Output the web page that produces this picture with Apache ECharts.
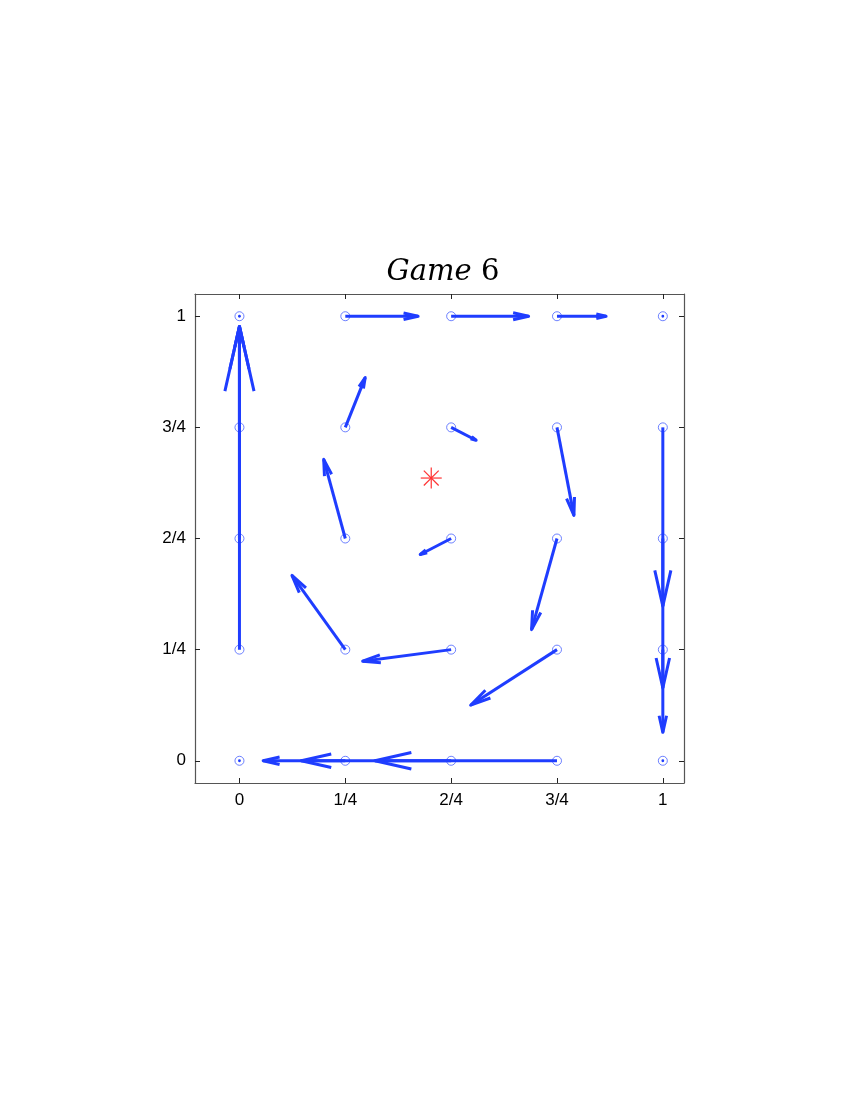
<!DOCTYPE html>
<html>
<head>
<meta charset="utf-8">
<script src="https://cdn.jsdelivr.net/npm/echarts@6/dist/echarts.min.js"></script>
<style>
html, body { margin: 0; padding: 0; background: #fff; }
#container { width: 850px; height: 1100px; }
</style>
</head>
<body>
<div id="container"></div>
<script>
var tickValues = [0, 0.25, 0.5, 0.75, 1];
var tickLabels = ['0', '1/4', '2/4', '3/4', '1'];

// grid points, bottom row first
var px = [0, 0.25, 0.5, 0.75, 1,
          0, 0.25, 0.5, 0.75, 1,
          0, 0.25, 0.5, 0.75, 1,
          0, 0.25, 0.5, 0.75, 1,
          0, 0.25, 0.5, 0.75, 1];
var py = [0, 0, 0, 0, 0,
          0.25, 0.25, 0.25, 0.25, 0.25,
          0.5, 0.5, 0.5, 0.5, 0.5,
          0.75, 0.75, 0.75, 0.75, 0.75,
          1, 1, 1, 1, 1];
// vector components at each point
var u = [0, -0.194, -0.354, -0.430, 0,
         0, -0.126, -0.209, -0.204, 0,
         0, -0.051, -0.073, -0.060, 0,
         0, 0.047, 0.059, 0.040, 0,
         0, 0.172, 0.183, 0.116, 0];
var v = [0, 0, 0, 0, 0,
         0.727, 0.167, -0.026, -0.125, -0.186,
         0.477, 0.178, -0.036, -0.205, -0.336,
         0.227, 0.112, -0.029, -0.198, -0.402,
         0, 0, 0, 0, 0];
var equilibrium = [0.453, 0.636];

window.onload = function () {
    var dom = document.getElementById('container');
    var myChart = echarts.init(dom);

    var points = [];
    var arrows = [];
    for (var i = 0; i < px.length; i++) {
        points.push([px[i], py[i]]);
        arrows.push([px[i], py[i], u[i], v[i]]);
    }

    var blue = '#1f3dff';

    function renderArrow(params, api) {
        var x = api.value(0), y = api.value(1);
        var p0 = api.coord([x, y]);
        var p1 = api.coord([x + api.value(2), y + api.value(3)]);
        var dx = p1[0] - p0[0], dy = p1[1] - p0[1];
        var len = Math.sqrt(dx * dx + dy * dy);
        if (len < 0.5) {
            // zero vector: just a dot
            return {
                type: 'circle',
                shape: { cx: p0[0], cy: p0[1], r: 1.4 },
                style: { fill: blue }
            };
        }
        var ux = dx / len, uy = dy / len;
        var hl = 0.2 * len, hw = 0.045 * len;
        var bx = p1[0] - ux * hl, by = p1[1] - uy * hl;
        return {
            type: 'group',
            children: [{
                type: 'line',
                shape: { x1: p0[0], y1: p0[1], x2: p1[0], y2: p1[1] },
                style: { stroke: blue, lineWidth: 3 }
            }, {
                type: 'polyline',
                shape: { points: [[bx - uy * hw, by + ux * hw], p1, [bx + uy * hw, by - ux * hw]] },
                style: { stroke: blue, lineWidth: 3, fill: null, lineJoin: 'round', lineCap: 'butt' }
            }]
        };
    }

    function renderStar(params, api) {
        var c = api.coord([api.value(0), api.value(1)]);
        var r = 10.5, d = r * 0.7071;
        var segs = [[-r, 0, r, 0], [0, -r, 0, r], [-d, -d, d, d], [-d, d, d, -d]];
        return {
            type: 'group',
            children: segs.map(function (s) {
                return {
                    type: 'line',
                    shape: { x1: c[0] + s[0], y1: c[1] + s[1], x2: c[0] + s[2], y2: c[1] + s[3] },
                    style: { stroke: '#ff3333', lineWidth: 1.2 }
                };
            })
        };
    }

    function labelFor(val) {
        for (var k = 0; k < tickValues.length; k++) {
            if (Math.abs(tickValues[k] - val) < 1e-9) return tickLabels[k];
        }
        return '';
    }

    var axisLine = { show: true, onZero: false, lineStyle: { color: '#555', width: 1.2 } };
    var tick = { show: true, inside: true, length: 5, customValues: tickValues, lineStyle: { color: '#222' } };
    var lab = {
        show: true, customValues: tickValues, formatter: labelFor,
        fontFamily: 'Liberation Sans', fontSize: 17, color: '#000', margin: 9
    };

    var option = {
        animation: false,
        title: {
            text: '{i|Game}{n| 6}',
            left: 438,
            top: 253,
            textAlign: 'center',
            textStyle: {
                fontWeight: 'normal',
                rich: {
                    i: { fontFamily: 'DejaVu Serif', fontStyle: 'italic', fontWeight: 'normal', fontSize: 29, color: '#000' },
                    n: { fontFamily: 'DejaVu Serif', fontWeight: 'normal', fontSize: 29, color: '#000' }
                }
            }
        },
        grid: { left: 195, right: 166, top: 294, bottom: 317, containLabel: false },
        xAxis: [{
            type: 'value', position: 'bottom', min: -0.105, max: 1.05,
            axisLine: axisLine, axisTick: tick, axisLabel: lab, splitLine: { show: false }
        }, {
            type: 'value', position: 'top', min: -0.105, max: 1.05,
            axisLine: axisLine, axisTick: tick, axisLabel: { show: false }, splitLine: { show: false }
        }],
        yAxis: [{
            type: 'value', position: 'left', min: -0.05, max: 1.05,
            axisLine: axisLine, axisTick: tick, axisLabel: lab, splitLine: { show: false }
        }, {
            type: 'value', position: 'right', min: -0.05, max: 1.05,
            axisLine: axisLine, axisTick: tick, axisLabel: { show: false }, splitLine: { show: false }
        }],
        series: [{
            type: 'scatter',
            data: points,
            symbol: 'circle',
            symbolSize: 9,
            itemStyle: { color: 'rgba(0,0,0,0)', borderColor: '#4862ff', borderWidth: 1 },
            z: 2,
            silent: true
        }, {
            type: 'custom',
            data: arrows,
            renderItem: renderArrow,
            z: 3,
            silent: true
        }, {
            type: 'custom',
            data: [equilibrium],
            renderItem: renderStar,
            z: 4,
            silent: true
        }]
    };
    myChart.setOption(option, true);
};
</script>
</body>
</html>
